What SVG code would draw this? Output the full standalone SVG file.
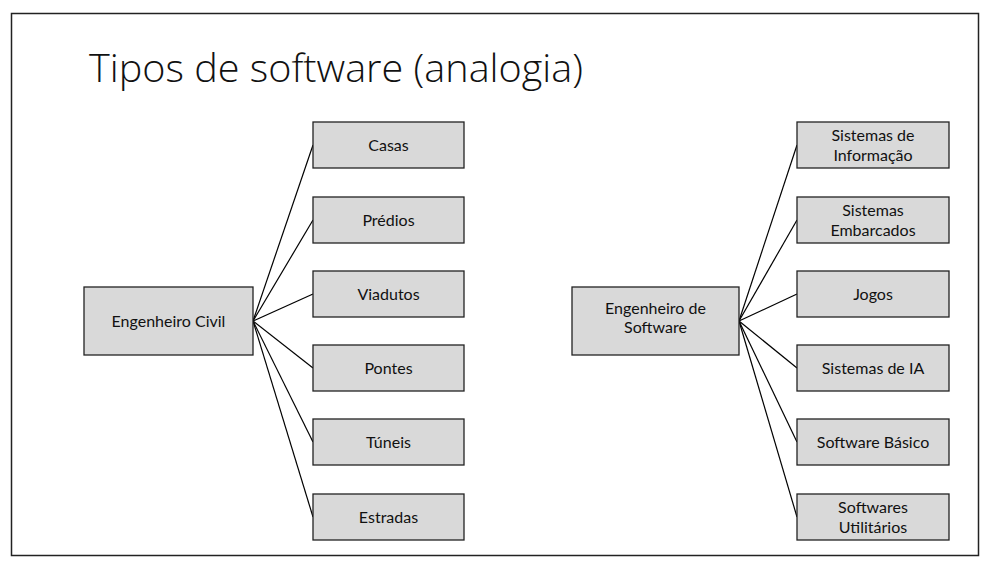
<svg xmlns="http://www.w3.org/2000/svg" width="992" height="567" viewBox="0 0 992 567">
<style>
.box{fill:#d9d9d9;stroke:#222;stroke-width:1.3}
.lbl{font-family:Lato,"Open Sans","Liberation Sans",sans-serif;font-size:16px;fill:#111;text-anchor:middle}
.con{stroke:#000;stroke-width:1.2;fill:none}
.title{font-family:"Open Sans","Liberation Sans",sans-serif;font-weight:300;font-size:39px;fill:#111}
</style>
<rect x="0" y="0" width="992" height="567" fill="#fff"/>
<rect x="11.5" y="13.5" width="967" height="542" fill="none" stroke="#222" stroke-width="1.5"/>
<text class="title" x="89" y="82" textLength="494" lengthAdjust="spacingAndGlyphs">Tipos de software (analogia)</text>
<g id="connectors">
<line class="con" x1="253" y1="321" x2="313" y2="145"/>
<line class="con" x1="253" y1="321" x2="313" y2="220"/>
<line class="con" x1="253" y1="321" x2="313" y2="294"/>
<line class="con" x1="253" y1="321" x2="313" y2="368"/>
<line class="con" x1="253" y1="321" x2="313" y2="442"/>
<line class="con" x1="253" y1="321" x2="313" y2="517"/>
<line class="con" x1="739" y1="321" x2="797" y2="145"/>
<line class="con" x1="739" y1="321" x2="797" y2="220"/>
<line class="con" x1="739" y1="321" x2="797" y2="294"/>
<line class="con" x1="739" y1="321" x2="797" y2="368"/>
<line class="con" x1="739" y1="321" x2="797" y2="442"/>
<line class="con" x1="739" y1="321" x2="797" y2="517"/>
</g>
<g id="civil"><rect class="box" x="84" y="287" width="169" height="68"/><text class="lbl" x="168.5" y="327">Engenheiro Civil</text></g>
<g id="casas"><rect class="box" x="313" y="122" width="151" height="46"/><text class="lbl" x="388.5" y="151">Casas</text></g>
<g id="predios"><rect class="box" x="313" y="197" width="151" height="46"/><text class="lbl" x="388.5" y="226">Prédios</text></g>
<g id="viadutos"><rect class="box" x="313" y="271" width="151" height="46"/><text class="lbl" x="388.5" y="300">Viadutos</text></g>
<g id="pontes"><rect class="box" x="313" y="345" width="151" height="46"/><text class="lbl" x="388.5" y="374">Pontes</text></g>
<g id="tuneis"><rect class="box" x="313" y="419" width="151" height="46"/><text class="lbl" x="388.5" y="448">Túneis</text></g>
<g id="estradas"><rect class="box" x="313" y="494" width="151" height="46"/><text class="lbl" x="388.5" y="523">Estradas</text></g>
<g id="software"><rect class="box" x="572" y="287" width="167" height="68"/><text class="lbl" x="655.5" y="313.5">Engenheiro de</text><text class="lbl" x="655.5" y="333">Software</text></g>
<g id="si"><rect class="box" x="797" y="122" width="152" height="46"/><text class="lbl" x="873" y="141">Sistemas de</text><text class="lbl" x="873" y="160.5">Informação</text></g>
<g id="se"><rect class="box" x="797" y="197" width="152" height="46"/><text class="lbl" x="873" y="216">Sistemas</text><text class="lbl" x="873" y="235.5">Embarcados</text></g>
<g id="jogos"><rect class="box" x="797" y="271" width="152" height="46"/><text class="lbl" x="873" y="300">Jogos</text></g>
<g id="ia"><rect class="box" x="797" y="345" width="152" height="46"/><text class="lbl" x="873" y="374">Sistemas de IA</text></g>
<g id="basico"><rect class="box" x="797" y="419" width="152" height="46"/><text class="lbl" x="873" y="448">Software Básico</text></g>
<g id="util"><rect class="box" x="797" y="494" width="152" height="46"/><text class="lbl" x="873" y="513">Softwares</text><text class="lbl" x="873" y="532.5">Utilitários</text></g>
</svg>
